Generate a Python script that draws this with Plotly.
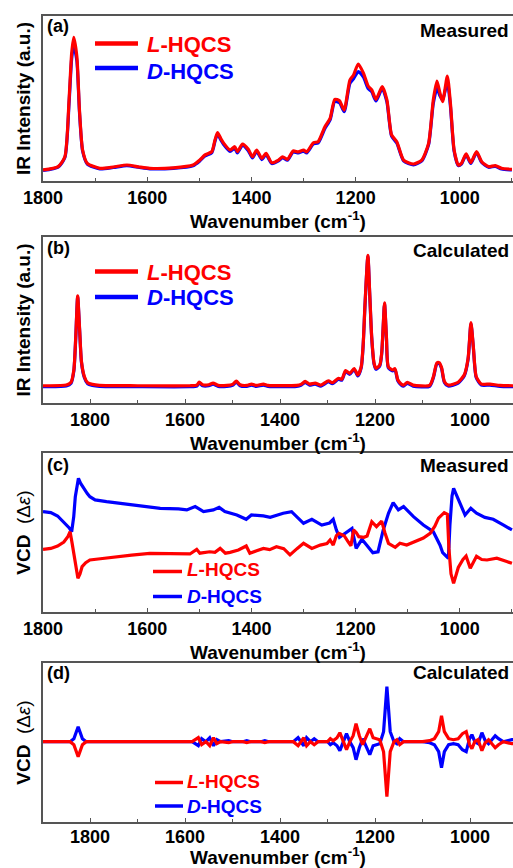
import plotly.graph_objects as go

W, H = 513, 868

# ---------------- data ----------------
# (a) measured IR
wn_a = [1800,1771,1758,1750,1745,1741,1735,1730,1724,1715,1691,1665,1639,1615,1595,1550,1512,1499,1489,1476,
        1470,1465,1459,1453,1441,1432,1427,1417,1406,1398,1390,1380,1372,1361,1348,1340,1331,1320,1310,1300,
        1294,1281,1272,1259,1249,1240,1231,1222,1211,1204,1195,1185,1176,1169,1161,1149,1140,1131,1121,1108,
        1089,1073,1060,1051,1044,1038,1033,1024,1018,1011,1003,997,988,979,968,958,945,932,920,900]
ir_a_L = [0.067,0.087,0.147,0.491,0.774,0.871,0.753,0.430,0.188,0.107,0.077,0.085,0.097,0.085,0.077,0.080,0.097,0.127,0.158,0.178,
          0.248,0.293,0.259,0.228,0.188,0.208,0.178,0.224,0.192,0.147,0.188,0.137,0.168,0.111,0.127,0.147,0.131,0.182,0.176,0.188,
          0.176,0.232,0.238,0.329,0.380,0.495,0.487,0.430,0.612,0.642,0.709,0.654,0.576,0.552,0.495,0.572,0.491,0.279,0.238,0.127,
          0.103,0.127,0.228,0.491,0.606,0.531,0.481,0.636,0.467,0.188,0.097,0.107,0.164,0.111,0.178,0.117,0.087,0.093,0.077,0.071]
ir_a_D = [0.064,0.084,0.142,0.470,0.740,0.824,0.728,0.418,0.182,0.103,0.074,0.082,0.093,0.082,0.074,0.077,0.093,0.122,0.152,0.172,
          0.240,0.285,0.250,0.220,0.180,0.200,0.170,0.216,0.184,0.140,0.180,0.130,0.160,0.106,0.122,0.141,0.126,0.176,0.170,0.181,
          0.170,0.225,0.230,0.318,0.370,0.482,0.474,0.420,0.592,0.620,0.663,0.630,0.560,0.540,0.485,0.560,0.480,0.272,0.230,0.122,
          0.098,0.122,0.220,0.470,0.561,0.515,0.490,0.600,0.450,0.180,0.093,0.102,0.158,0.106,0.172,0.112,0.083,0.089,0.073,0.067]

# (b) calculated IR
wn_b = [1899,1850,1840,1834,1830,1826,1822,1818,1812,1805,1795,1780,1700,1590,1575,1570,1563,1550,1541,1530,
        1512,1500,1492,1484,1470,1460,1450,1435,1425,1365,1356,1347,1338,1326,1314,1298,1290,1277,1270,1262,
        1253,1244,1236,1229,1225,1221,1215,1211,1207,1202,1198,1190,1186,1183,1180,1176,1172,1163,1158,1152,
        1145,1140,1132,1120,1085,1077,1070,1065,1060,1054,1046,1025,1012,1004,998,993,987,976,958,937,909]
ir_b_L = [0.104,0.108,0.125,0.200,0.400,0.645,0.450,0.250,0.160,0.122,0.112,0.106,0.104,0.104,0.108,0.126,0.110,0.110,0.120,0.106,
          0.106,0.112,0.132,0.110,0.106,0.114,0.106,0.114,0.106,0.106,0.112,0.130,0.114,0.120,0.108,0.134,0.122,0.149,0.143,0.195,
          0.179,0.207,0.169,0.219,0.350,0.600,0.890,0.650,0.400,0.240,0.209,0.229,0.300,0.450,0.604,0.400,0.219,0.199,0.207,0.140,
          0.115,0.108,0.124,0.108,0.106,0.159,0.240,0.243,0.215,0.130,0.108,0.125,0.170,0.270,0.484,0.340,0.160,0.114,0.114,0.106,0.104]
ir_b_D = [0.098,0.102,0.119,0.194,0.394,0.640,0.444,0.244,0.154,0.116,0.106,0.100,0.098,0.098,0.102,0.120,0.104,0.104,0.114,0.100,
          0.100,0.106,0.126,0.104,0.100,0.108,0.100,0.108,0.100,0.100,0.106,0.124,0.108,0.114,0.102,0.128,0.116,0.143,0.137,0.189,
          0.173,0.201,0.163,0.213,0.344,0.594,0.884,0.644,0.394,0.234,0.203,0.223,0.294,0.444,0.598,0.394,0.213,0.193,0.201,0.134,
          0.109,0.102,0.118,0.102,0.100,0.153,0.234,0.237,0.209,0.124,0.102,0.119,0.164,0.264,0.478,0.334,0.154,0.108,0.108,0.100,0.098]

# (c) measured VCD
wn_c_L = [1800,1785,1772,1760,1752,1748,1744,1740,1736,1733,1729,1725,1718,1710,1690,1660,1630,1595,1560,1518,
          1505,1499,1480,1470,1460,1450,1441,1425,1410,1403,1390,1377,1365,1352,1338,1326,1312,1300,1284,1268,
          1255,1249,1243,1237,1232,1222,1214,1209,1204,1199,1194,1184,1178,1169,1160,1150,1144,1137,1124,1115,
          1102,1083,1070,1057,1048,1041,1030,1024,1021,1017,1012,1003,994,988,980,968,958,948,929,910,900]
vcd_c_L = [0.394,0.400,0.415,0.440,0.475,0.505,0.430,0.348,0.260,0.212,0.240,0.285,0.310,0.327,0.335,0.348,0.358,0.369,0.368,0.365,
           0.394,0.370,0.379,0.375,0.400,0.370,0.375,0.390,0.415,0.369,0.385,0.400,0.392,0.410,0.398,0.359,0.400,0.432,0.400,0.421,
           0.430,0.453,0.421,0.480,0.495,0.480,0.440,0.417,0.516,0.500,0.474,0.470,0.478,0.568,0.537,0.572,0.500,0.432,0.407,0.432,
           0.421,0.445,0.465,0.495,0.540,0.590,0.625,0.615,0.400,0.240,0.180,0.280,0.330,0.352,0.275,0.350,0.330,0.327,0.338,0.317,0.306]
wn_c_D = [1800,1785,1772,1758,1750,1745,1741,1738,1732,1728,1722,1715,1710,1700,1678,1650,1626,1600,1575,1540,
          1524,1508,1492,1473,1462,1451,1428,1410,1400,1377,1364,1339,1323,1300,1284,1265,1250,1243,1237,1231,
          1217,1207,1199,1188,1179,1167,1157,1147,1137,1128,1118,1108,1089,1070,1051,1038,1033,1022,1019,1015,
          1012,1003,990,979,968,952,936,916,900]
vcd_c_D = [0.631,0.625,0.604,0.558,0.530,0.505,0.600,0.725,0.841,0.810,0.778,0.745,0.725,0.705,0.694,0.683,0.673,0.663,0.652,0.648,
           0.642,0.663,0.632,0.642,0.658,0.632,0.610,0.583,0.610,0.604,0.595,0.621,0.631,0.558,0.583,0.547,0.560,0.583,0.516,0.470,
           0.505,0.526,0.400,0.457,0.421,0.373,0.379,0.516,0.621,0.688,0.642,0.663,0.600,0.547,0.505,0.420,0.373,0.338,0.550,0.730,
           0.778,0.704,0.610,0.652,0.621,0.595,0.583,0.547,0.516]

# (d) calculated VCD
wn_d = [1899,1842,1834,1825,1816,1808,1585,1572,1565,1556,1548,1540,1533,1525,1508,1500,1478,1470,1462,1440,
        1432,1424,1372,1362,1356,1350,1344,1336,1328,1320,1300,1294,1288,1280,1274,1267,1260,1253,1246,1240,
        1233,1226,1218,1211,1204,1198,1190,1182,1175,1168,1160,1154,1148,1140,1100,1085,1075,1066,1060,1054,
        1045,1035,1025,1016,1008,1001,996,990,983,975,968,961,954,947,940,930,912,909]
vcd_d_L = [0,0,-3,-15,-3,0,0,4,-3,0,-4,4,-2,0,-1,0,0,-1,0,0,
           -1,0,0,-4,0,4,-4,0,-3,0,0,3,1,4,9,0,-8,0,6,18,
           6,-3,5,13,4,3,2,-10,-55,-10,0,2,-3,0,0,1,3,10,26,10,
           3,2,3,8,10,-3,-7,0,2,-9,-1,2,-2,-6,-3,0,-2,-2]
vcd_d_D = [0,0,3,15,3,0,0,-4,3,0,4,-4,2,0,1,0,0,1,0,0,
           1,0,0,4,0,-4,4,0,3,0,0,-3,-1,-4,-9,0,8,0,-6,-18,
           -6,3,-5,-13,-4,-3,-2,10,55,10,0,-2,3,0,0,-1,-3,-10,-26,-10,
           -3,-2,-3,-8,-10,3,7,0,-2,9,1,-2,2,6,3,0,2,2]

series_names = ["<i>L</i>-HQCS", "<i>D</i>-HQCS"]
x_title = "Wavenumber (cm<sup>-1</sup>)"
ir_title = "IR Intensity (a.u.)"
vcd_title = "<b>VCD</b>\u00a0\u00a0(Δ<i>ε</i>)"
RED, BLUE = "#ff0000", "#0000ff"


def px_x(p):
    return p / W


def px_y(p):
    return 1 - p / H


fig = go.Figure()

panels = [
    (wn_a, ir_a_L, wn_a, ir_a_D, "", "spline"),
    (wn_b, ir_b_L, wn_b, ir_b_D, "2", "spline"),
    (wn_c_L, vcd_c_L, wn_c_D, vcd_c_D, "3", "linear"),
    (wn_d, vcd_d_L, wn_d, vcd_d_D, "4", "linear"),
]
for xl, yl, xd, yd, s, shp in panels:
    fig.add_trace(go.Scatter(x=xd, y=yd, mode="lines", name=series_names[1], showlegend=False,
                             line=dict(color=BLUE, width=3.2, shape=shp, smoothing=0.6),
                             xaxis="x" + s, yaxis="y" + s))
    fig.add_trace(go.Scatter(x=xl, y=yl, mode="lines", name=series_names[0], showlegend=False,
                             line=dict(color=RED, width=3.2, shape=shp, smoothing=0.6),
                             xaxis="x" + s, yaxis="y" + s))

axis_col = "#555555"
tickfont = dict(family="Arial", size=18, color="black", weight="bold")
NB = "\u00a0"


def xax(rng, anchor, pad, title_standoff=4, label_standoff=0):
    return dict(range=rng, domain=[px_x(43), 1.0], anchor=anchor, automargin=False,
                title=dict(text=x_title + NB * pad, standoff=title_standoff,
                           font=dict(family="Arial", size=19, color="black", weight="bold")),
                showline=True, mirror=True, linecolor=axis_col, linewidth=1.5,
                ticks="inside", ticklen=4, tickcolor=axis_col, tickwidth=1.2,
                tick0=1000, dtick=200, tickfont=tickfont, ticklabelstandoff=label_standoff,
                minor=dict(ticks="inside", ticklen=3, tick0=1000, dtick=100, tickcolor=axis_col),
                showgrid=False, zeroline=False)


def yax(rng, top, bot, anchor, title, weight):
    return dict(range=rng, domain=[px_y(bot), px_y(top)], anchor=anchor, automargin=False,
                title=dict(text=title, standoff=6,
                           font=dict(family="Arial", size=19, color="black", weight=weight)),
                showline=True, mirror=True, linecolor=axis_col, linewidth=1.5,
                ticks="", showticklabels=False, showgrid=False, zeroline=False)


fig.update_layout(
    xaxis=xax([1800, 898], "y", 5),
    xaxis2=xax([1899, 909.5], "y2", 3),
    xaxis3=xax([1800, 898], "y3", 5),
    xaxis4=xax([1899, 909.5], "y4", 4, title_standoff=6, label_standoff=-2),
    yaxis=yax([0, 1], 16, 181, "x", ir_title, "bold"),
    yaxis2=yax([0, 1], 237, 403, "x2", ir_title, "bold"),
    yaxis3=yax([0, 1], 453, 612, "x3", vcd_title + NB * 3, "normal"),
    yaxis4=yax([-80.3, 78.7], 663, 822, "x4", vcd_title + NB * 3, "normal"),
)

ann = []
shapes = []


def text(t, x, y, size, xanchor="center", color="black"):
    ann.append(dict(text=t, x=px_x(x), y=px_y(y), xref="paper", yref="paper",
                    xanchor=xanchor, yanchor="middle", showarrow=False,
                    font=dict(family="Arial", size=size, color=color, weight="bold")))


# legend keys (line samples + labels) for each panel
legend_spec = [
    # x0, x1, yL_line, yL_text, yD_line, yD_text, text_x, size, width
    (95, 138, 43.5, 44, 68, 71, 145, 22, 4.5),
    (95, 138, 271.5, 272, 297, 297, 145, 22, 4.5),
    (153, 182, 571.5, 569.5, 596.5, 596, 185, 19, 3.5),
    (155, 183, 782.5, 781, 806, 806, 185, 19, 3.5),
]
for x0, x1, yl, ylt, yd, ydt, tx, sz, lw in legend_spec:
    for yy, col in [(yl, RED), (yd, BLUE)]:
        shapes.append(dict(type="line", xref="paper", yref="paper",
                           x0=px_x(x0), x1=px_x(x1), y0=px_y(yy), y1=px_y(yy),
                           line=dict(color=col, width=lw)))
    text(series_names[0], tx, ylt, sz, xanchor="left", color=RED)
    text(series_names[1], tx, ydt, sz, xanchor="left", color=BLUE)

for lab, y in [("(a)", 25.5), ("(b)", 247.5), ("(c)", 465), ("(d)", 672.5)]:
    text(lab, 45, y, 18, xanchor="left")
for lab, y in [("Measured", 30), ("Calculated", 250), ("Measured", 465), ("Calculated", 672.5)]:
    text(lab, 511, y, 19, xanchor="right")

fig.update_layout(annotations=ann, shapes=shapes, width=W, height=H,
                  margin=dict(l=0, r=0, t=0, b=0, autoexpand=False),
                  paper_bgcolor="white", plot_bgcolor="white", showlegend=False)

fig.write_html("out.html")
